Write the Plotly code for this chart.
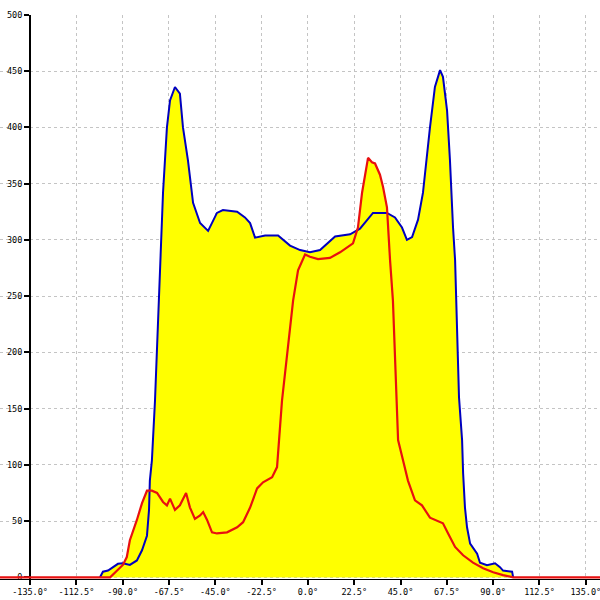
import plotly.graph_objects as go

# ---- data ----
blue_x = [-101.0, -99.6, -97.1, -94.7, -92.3, -89.9, -86.5, -83.1, -80.6, -78.2, -77.2, -76.8, -75.8,
          -74.3, -72.8, -71.5, -70.4, -68.5, -67.0, -64.6, -62.2, -60.7, -58.3, -55.8, -52.4, -48.5,
          -44.2, -41.3, -34.4, -30.6, -28.1, -25.7, -20.8, -14.5, -8.7, -3.8, 1.0, 5.9, 13.2, 20.5,
          25.3, 31.6, 38.4, 42.3, 45.7, 48.1, 50.6, 53.5, 55.9, 59.3, 61.7, 64.2, 65.6, 67.6, 69.0,
          70.5, 71.5, 73.4, 74.9, 75.4, 76.3, 77.3, 78.8, 82.2, 83.6, 87.0, 90.9, 93.3, 94.8, 99.2, 99.7]
blue_y = [0, 5, 6, 9, 12, 12.5, 11, 15, 24, 37, 60, 86, 104,
          157, 230, 282, 342, 400, 424, 436, 430, 400, 371, 333, 315, 308,
          324, 326.5, 325, 320, 315, 302, 304, 304, 295, 291, 289, 291, 303, 305,
          310, 324, 324, 320, 311, 300, 302.5, 318, 342, 400, 436, 451, 445, 415, 371,
          311, 282, 160, 122, 92.5, 62, 44.5, 30, 21, 13, 10.7, 12.5, 9, 6, 5, 0]

red_x = [-150.0, -96.1, -92.7, -89.9, -88.0, -86.5, -83.1, -80.6, -78.2, -75.8, -73.3, -70.4, -68.5,
         -67.0, -64.6, -62.2, -59.2, -57.3, -54.9, -52.4, -50.9, -49.0, -46.6, -44.2, -39.3, -34.4,
         -31.5, -28.1, -24.7, -21.8, -17.4, -15.0, -12.6, -9.7, -7.2, -4.8, -1.4, 1.0, 4.9, 10.7,
         15.6, 21.9, 24.3, 26.3, 28.7, 29.2, 31.1, 32.6, 35.0, 36.5, 38.4, 38.9, 39.9, 41.3, 42.8,
         43.8, 46.2, 48.6, 52.0, 55.4, 59.3, 63.2, 65.6, 68.1, 71.5, 75.4, 80.2, 85.1, 90.0, 94.8,
         99.7, 150.0]
red_y = [0, 0, 6, 11, 18, 33, 51, 66, 77, 77, 75, 67, 64,
         70, 60, 64, 75, 62, 52, 55, 58, 51, 40, 39, 40, 44.5,
         49, 62, 79, 84.5, 89, 98, 157, 202, 246, 273, 287, 285, 283, 284,
         289, 297, 311, 342, 371, 373, 369, 368, 358, 347, 329, 311, 282, 246, 175,
         122, 104, 86, 68.5, 64, 53, 50, 48, 39, 27, 19.6, 13, 8, 4.5, 2,
         0, 0]

x_ticks = [-135.0, -112.5, -90.0, -67.5, -45.0, -22.5, 0.0, 22.5, 45.0, 67.5, 90.0, 112.5, 135.0]
x_labels = ["-135.0°", "-112.5°", "-90.0°", "-67.5°", "-45.0°", "-22.5°", "0.0°",
            "22.5°", "45.0°", "67.5°", "90.0°", "112.5°", "135.0°"]
y_ticks = [0, 50, 100, 150, 200, 250, 300, 350, 400, 450, 500]
y_labels = [str(v) for v in y_ticks]

X_MIN, X_MAX = -149.6, 141.9
Y_MIN, Y_MAX = -1.5, 500
Y_AXIS_AT = -135.0

YELLOW = "#ffff00"
BLUE = "#0000c0"
RED = "#e81010"
GRID = "#c4c4c4"
FONT = dict(family="DejaVu Sans Mono", size=8.5, color="#000000")

fig = go.Figure()
# fills first (union of both areas is yellow)
fig.add_trace(go.Scatter(x=blue_x, y=blue_y, mode="lines", line=dict(width=0),
                         fill="tozeroy", fillcolor=YELLOW, hoverinfo="skip", showlegend=False))
fig.add_trace(go.Scatter(x=red_x, y=red_y, mode="lines", line=dict(width=0),
                         fill="tozeroy", fillcolor=YELLOW, hoverinfo="skip", showlegend=False))
# lines on top
fig.add_trace(go.Scatter(x=blue_x, y=blue_y, mode="lines", line=dict(color=BLUE, width=2),
                         showlegend=False))
fig.add_trace(go.Scatter(x=red_x, y=red_y, mode="lines", line=dict(color=RED, width=2.2),
                         showlegend=False))

# hide grid to the left of the y axis
fig.add_shape(type="rect", xref="x", yref="paper", x0=X_MIN, x1=Y_AXIS_AT, y0=0, y1=1,
              fillcolor="white", line=dict(width=0), layer="between")

fig.update_layout(
    width=600, height=600,
    margin=dict(l=0, r=0, t=15, b=21),
    paper_bgcolor="white", plot_bgcolor="white",
    showlegend=False,
    xaxis=dict(range=[X_MIN, X_MAX], tickmode="array", tickvals=x_ticks, ticktext=x_labels,
               ticks="outside", ticklen=5, tickwidth=1.5, tickcolor="black",
               showline=True, linecolor="black", linewidth=1,
               showgrid=True, gridcolor=GRID, griddash="3px,3px", gridwidth=1,
               zeroline=False, tickfont=FONT, fixedrange=True, automargin=False,
               ticklabeloverflow="allow", layer="below traces"),
    yaxis=dict(range=[Y_MIN, Y_MAX], tickmode="array", tickvals=y_ticks, ticktext=y_labels,
               anchor="free", position=(Y_AXIS_AT - X_MIN) / (X_MAX - X_MIN),
               ticks="outside", ticklen=5, tickwidth=1.5, tickcolor="black",
               showline=True, linecolor="black", linewidth=2,
               showgrid=True, gridcolor=GRID, griddash="3px,3px", gridwidth=1,
               zeroline=False, tickfont=FONT, fixedrange=True, automargin=False,
               layer="below traces"),
)

fig.write_html("out.html", config={"displayModeBar": False},
               post_script="document.body.style.margin='0';document.body.style.overflow='hidden';")
